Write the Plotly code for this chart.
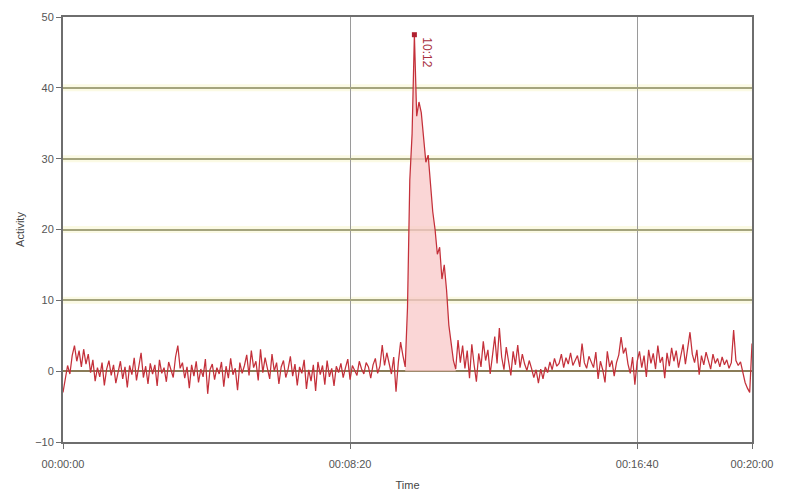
import plotly.graph_objects as go

# Activity sampled every 4 seconds over a 20 minute recording
SAMPLE_SECONDS = 4
activity = [
    # 00:00 - 09:52 background
    -3.0, -1.2, 0.8, -0.4, 2.2, 3.6, 1.4, 2.9, 0.6, 3.1,
    1.0, 2.4, -0.2, 1.6, -1.4, 0.5, -0.8, 1.2, -2.0, 0.3,
    1.5, -0.6, 0.9, -1.7, -0.2, 1.4, -1.1, 0.6, -2.3, 0.8,
    -0.5, 1.9, -1.3, 0.4, 2.6, -0.9, 0.7, -1.8, 1.1, -0.4,
    0.9, -2.1, 1.6, -0.3, 0.5, -1.5, 1.3, 0.2, -0.9, 2.0,
    3.6, 0.4, 1.2, -1.0, 0.6, -2.4, 0.9, -0.7, 1.4, -1.6,
    0.3, -0.8, 1.7, -3.2, 0.2, 1.0, -1.2, 0.5, -0.4, 1.3,
    -2.2, 0.7, -1.0, 1.8, -0.5, 0.4, -2.7, 1.2, -0.3, 0.8,
    2.3, -0.6, 2.9, 0.5, 1.4, -1.3, 3.1, -0.2, 1.9, 0.4,
    -1.1, 2.4, 0.0, 1.2, -1.8, 0.6, 1.5, -0.9, 0.3, 2.1,
    -0.7, 1.0, -2.0, 0.6, -0.3, 1.6, -2.5, 0.2, -1.4, 0.9,
    -2.8, 1.3, -0.5, 0.8, -1.9, 1.5, -0.8, 0.4, -2.1, 0.7,
    -0.2, 1.1, -0.9, 0.5, 1.7, -1.2, 0.8, 0.1, -0.6, 1.4,
    0.3, -0.4, 1.2, 0.6, -1.0, 0.9, 1.8, -0.3, 0.7, 3.7,
    0.8, 2.6, 1.1, -0.4, 2.0, -2.9, 1.2, 4.1, 2.2,
    # event 09:56 - 11:24
    0.6, 9.0, 27.0, 33.5, 47.5, 36.0, 38.0, 36.5, 33.0, 29.5,
    30.5, 26.5, 22.5, 20.0, 16.5, 17.5, 13.0, 15.0, 11.5, 6.5,
    4.0, 1.5, 0.3,
    # after the event
    4.4, 1.2, 3.6, 0.4, 2.9, -1.0, 3.8, 0.9, -1.5, 2.5,
    0.6, 4.2, 1.5, 3.0, -0.4, 2.2, 4.9, 1.1, 6.1, 2.0,
    0.2, 3.4, 1.3, -0.6, 2.8, 0.9, 3.7, 0.5, 2.4, 1.0,
    0.1, 1.5, 0.4, -0.9, 0.2, -1.7, 0.3, -1.1, 0.6, -0.2,
    1.3, 0.2, 1.8, 0.7, 1.1, 2.4, 0.5, 1.9, 1.0, 2.6,
    0.8, 1.6, 2.2, 0.6, 3.9, 1.2, 0.4, 2.1, 1.3, 0.5,
    2.7, -1.1, 1.4, 0.2, -1.6, 2.8, 0.6, 1.5, -0.7, 1.2,
    2.3, 4.8, 2.5, 3.3, 1.0, -0.3, 2.0, -1.9, 1.4, 2.8,
    0.5, 2.2, -0.8, 3.0, 1.1, 2.5, 0.3, 3.6, 1.2, 2.0,
    -1.0, 2.6, 0.7, 3.3, 1.4, 2.9, 0.5, 2.2, 3.8, 1.0,
    3.1, 5.5, 2.4, 1.2, 3.0, -0.5, 2.2, 0.9, 2.7, 1.5,
    0.3, 2.4, 1.1, 1.8, 0.6, 2.0, 0.9, 1.6, 0.4, 1.2,
    5.8, 1.5, 0.8, 1.3, -0.2, -1.6, -2.4, -3.0, 3.9,
]
EVENT_START, EVENT_END = 149, 171  # sample indices of the highlighted event

x_tickvals = [0, 500, 1000, 1200]
x_ticktext = ["00:00:00", "00:08:20", "00:16:40", "00:20:00"]
y_tickvals = [-10, 0, 10, 20, 30, 40, 50]

seconds = [i * SAMPLE_SECONDS for i in range(len(activity))]

peak_idx = max(range(len(activity)), key=lambda i: activity[i])
peak_t, peak_v = seconds[peak_idx], activity[peak_idx]
peak_label = f"{peak_t // 60}:{peak_t % 60:02d}"

LINE_RED = "#c4303a"
FONT = "Liberation Sans, Arial"

fig = go.Figure()

# shaded event area
fig.add_trace(go.Scatter(
    x=seconds[EVENT_START:EVENT_END + 1],
    y=activity[EVENT_START:EVENT_END + 1],
    mode="lines", line=dict(width=0), fill="tozeroy",
    fillcolor="rgba(248,200,200,0.75)", hoverinfo="skip", showlegend=False,
))

# activity trace
fig.add_trace(go.Scatter(
    x=seconds, y=activity, mode="lines",
    line=dict(color=LINE_RED, width=1.25), showlegend=False,
))

# peak marker
fig.add_trace(go.Scatter(
    x=[peak_t], y=[peak_v], mode="markers",
    marker=dict(color="#b02030", size=5, symbol="square"), showlegend=False,
))

fig.add_annotation(
    x=peak_t, y=peak_v, xref="x", yref="y",
    text=peak_label, textangle=90, showarrow=False,
    xshift=13, yshift=-18,
    font=dict(family=FONT, size=12, color="#a83040"),
)

# pale bands along the horizontal grid lines
for v in [10, 20, 30, 40]:
    fig.add_shape(type="line", xref="x", yref="y", x0=0, x1=1200, y0=v, y1=v,
                  line=dict(color="#fbfae4", width=7), layer="below")

fig.update_layout(
    width=785, height=494,
    margin=dict(l=63, r=33, t=17, b=52),
    paper_bgcolor="white", plot_bgcolor="white",
    font=dict(family=FONT, size=11, color="#555555"),
    xaxis=dict(
        range=[0, 1200], tickvals=x_tickvals, ticktext=x_ticktext,
        automargin=False,
        showgrid=True, gridcolor="#9a9a9a", gridwidth=1,
        zeroline=False, showline=True, linecolor="#6e6e6e", linewidth=2,
        mirror=True, ticks="outside", ticklen=5, tickcolor="#6e6e6e",
        ticklabelstandoff=6,
        title=dict(text="Time", standoff=12, font=dict(size=11, color="#444444")),
        tickfont=dict(size=11, color="#555555"),
    ),
    yaxis=dict(
        range=[-10, 50], tickvals=y_tickvals,
        automargin=False,
        showgrid=True, gridcolor="#a4a47e", gridwidth=2,
        zeroline=True, zerolinecolor="#8a7c58", zerolinewidth=1.5,
        showline=True, linecolor="#6e6e6e", linewidth=2,
        mirror=True, ticks="outside", ticklen=5, tickcolor="#6e6e6e",
        title=dict(text="Activity", standoff=8, font=dict(size=11, color="#444444")),
        tickfont=dict(size=11, color="#555555"),
    ),
)

fig.write_html("out.html")
